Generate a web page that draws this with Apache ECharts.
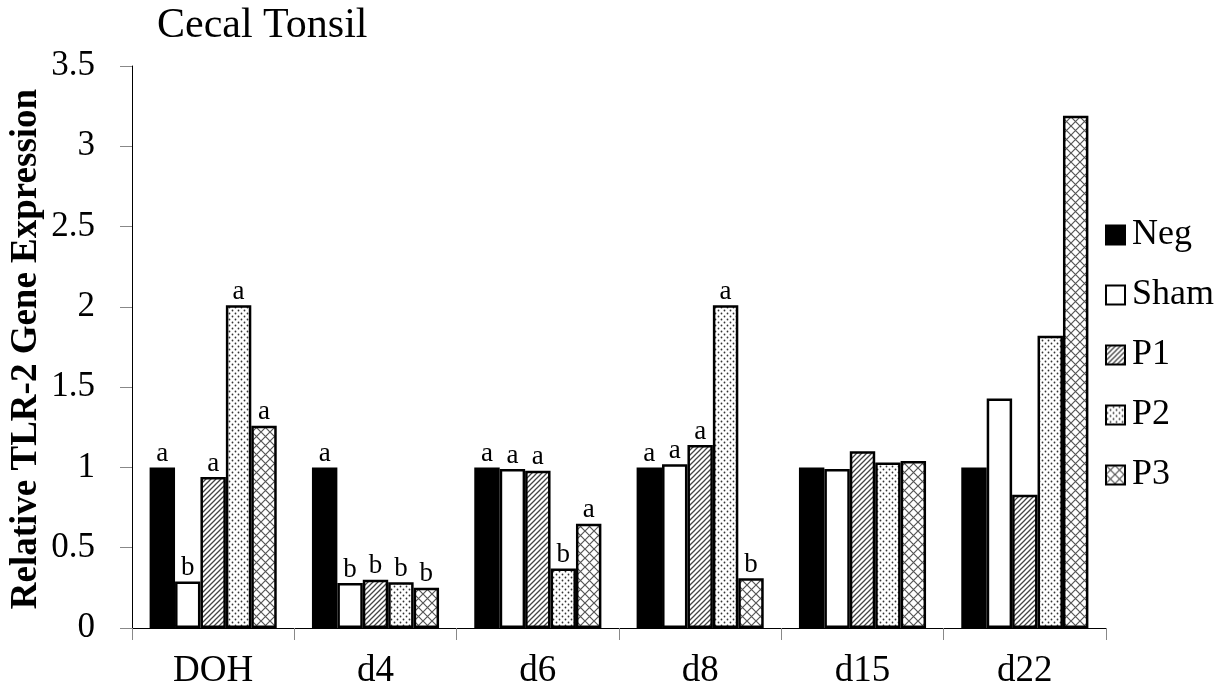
<!DOCTYPE html>
<html>
<head>
<meta charset="utf-8">
<script src="https://cdn.jsdelivr.net/npm/echarts@6/dist/echarts.min.js"></script>
<style>
html,body{margin:0;padding:0;background:#fff;}
#chart{width:1228px;height:692px;}
</style>
</head>
<body>
<div id="chart"></div>
<script>
// ---- data ----
var categories = ['DOH', 'd4', 'd6', 'd8', 'd15', 'd22'];
var seriesNames = ['Neg', 'Sham', 'P1', 'P2', 'P3'];
var negValues  = [1.00, 1.00, 1.00, 1.00, 1.00, 1.00];
var shamValues = [0.29, 0.28, 0.99, 1.02, 0.99, 1.43];
var p1Values   = [0.94, 0.30, 0.98, 1.14, 1.10, 0.83];
var p2Values   = [2.01, 0.285, 0.37, 2.01, 1.03, 1.82];
var p3Values   = [1.26, 0.25, 0.65, 0.31, 1.04, 3.19];
var negLetters  = ['a', 'a', 'a', 'a', '', ''];
var shamLetters = ['b', 'b', 'a', 'a', '', ''];
var p1Letters   = ['a', 'b', 'a', 'a', '', ''];
var p2Letters   = ['a', 'b', 'b', 'a', '', ''];
var p3Letters   = ['a', 'b', 'a', 'b', '', ''];
var yTicks = { min: 0, max: 3.5, interval: 0.5 };

// ---- patterns ----
function makeCanvas(w, h) {
  var c = document.createElement('canvas');
  c.width = w; c.height = h;
  var ctx = c.getContext('2d');
  ctx.fillStyle = '#fff';
  ctx.fillRect(0, 0, w, h);
  return { c: c, ctx: ctx };
}
function diagPattern() {
  var s = 5, o = makeCanvas(s, s), ctx = o.ctx;
  ctx.strokeStyle = '#444';
  ctx.lineWidth = 1.3;
  ctx.beginPath();
  ctx.moveTo(-1, s + 1); ctx.lineTo(s + 1, -1);
  ctx.moveTo(-1, 1); ctx.lineTo(1, -1);
  ctx.moveTo(s - 1, s + 1); ctx.lineTo(s + 1, s - 1);
  ctx.stroke();
  return o.c;
}
function dotPattern() {
  var s = 6, o = makeCanvas(s, s), ctx = o.ctx;
  ctx.fillStyle = '#333';
  ctx.beginPath(); ctx.arc(1.5, 1.5, 0.9, 0, Math.PI * 2); ctx.fill();
  ctx.beginPath(); ctx.arc(4.5, 4.5, 0.9, 0, Math.PI * 2); ctx.fill();
  return o.c;
}
function crossPattern() {
  var s = 9, o = makeCanvas(s, s), ctx = o.ctx;
  ctx.strokeStyle = '#555';
  ctx.lineWidth = 1.2;
  ctx.beginPath();
  ctx.moveTo(0, 0); ctx.lineTo(s, s);
  ctx.moveTo(0, s); ctx.lineTo(s, 0);
  ctx.stroke();
  return o.c;
}

var fills = [
  '#000',
  '#fff',
  { image: diagPattern(), repeat: 'repeat' },
  { image: dotPattern(), repeat: 'repeat' },
  { image: crossPattern(), repeat: 'repeat' }
];
var valueSets = [negValues, shamValues, p1Values, p2Values, p3Values];
var letterSets = [negLetters, shamLetters, p1Letters, p2Letters, p3Letters];

var FONT = '"Liberation Serif", "Times New Roman", serif';

var series = seriesNames.map(function (name, i) {
  var letters = letterSets[i];
  return {
    name: name,
    type: 'bar',
    barGap: '0%',
    barCategoryGap: '21.7%',
    data: valueSets[i],
    itemStyle: { color: fills[i], borderColor: '#000', borderWidth: 2.5 },
    label: {
      show: true,
      position: 'top',
      distance: 0,
      fontFamily: FONT,
      fontSize: 27,
      color: '#000',
      formatter: function (p) { return letters[p.dataIndex]; }
    },
    emphasis: { disabled: true },
    animation: false
  };
});

var chart = echarts.init(document.getElementById('chart'));
chart.setOption({
  animation: false,
  backgroundColor: '#fff',
  title: {
    text: 'Cecal Tonsil',
    left: 152,
    top: 0,
    textStyle: { fontFamily: FONT, fontSize: 42, fontWeight: 'normal', color: '#000' }
  },
  legend: {
    orient: 'vertical',
    left: 1100,
    top: 212,
    icon: 'rect',
    itemWidth: 19,
    itemHeight: 19,
    itemGap: 24,
    itemStyle: { borderColor: '#000', borderWidth: 2 },
    textStyle: { fontFamily: FONT, fontSize: 36, color: '#000', lineHeight: 36, padding: [0, 0, 0, 2] },
    data: seriesNames
  },
  grid: { left: 132, right: 122, top: 66, bottom: 64, containLabel: false },
  xAxis: {
    type: 'category',
    data: categories,
    axisLine: { lineStyle: { color: '#000', width: 1 } },
    axisTick: { show: true, length: 12, lineStyle: { color: '#888' } },
    axisLabel: { fontFamily: FONT, fontSize: 37, color: '#000', margin: 25 }
  },
  yAxis: {
    type: 'value',
    min: yTicks.min,
    max: yTicks.max,
    interval: yTicks.interval,
    splitLine: { show: false },
    axisLine: { show: true, lineStyle: { color: '#000', width: 1 } },
    axisTick: { show: true, length: 12, lineStyle: { color: '#888' } },
    axisLabel: { fontFamily: FONT, fontSize: 35, color: '#000', margin: 37 }
  },
  graphic: [{
    type: 'text',
    x: 26,
    y: 349,
    rotation: Math.PI / 2,
    style: {
      text: 'Relative TLR-2 Gene Expression',
      fontFamily: FONT,
      fontSize: 37,
      fontWeight: 'bold',
      fill: '#000',
      align: 'center',
      verticalAlign: 'middle'
    }
  }],
  series: series
});
</script>
</body>
</html>
